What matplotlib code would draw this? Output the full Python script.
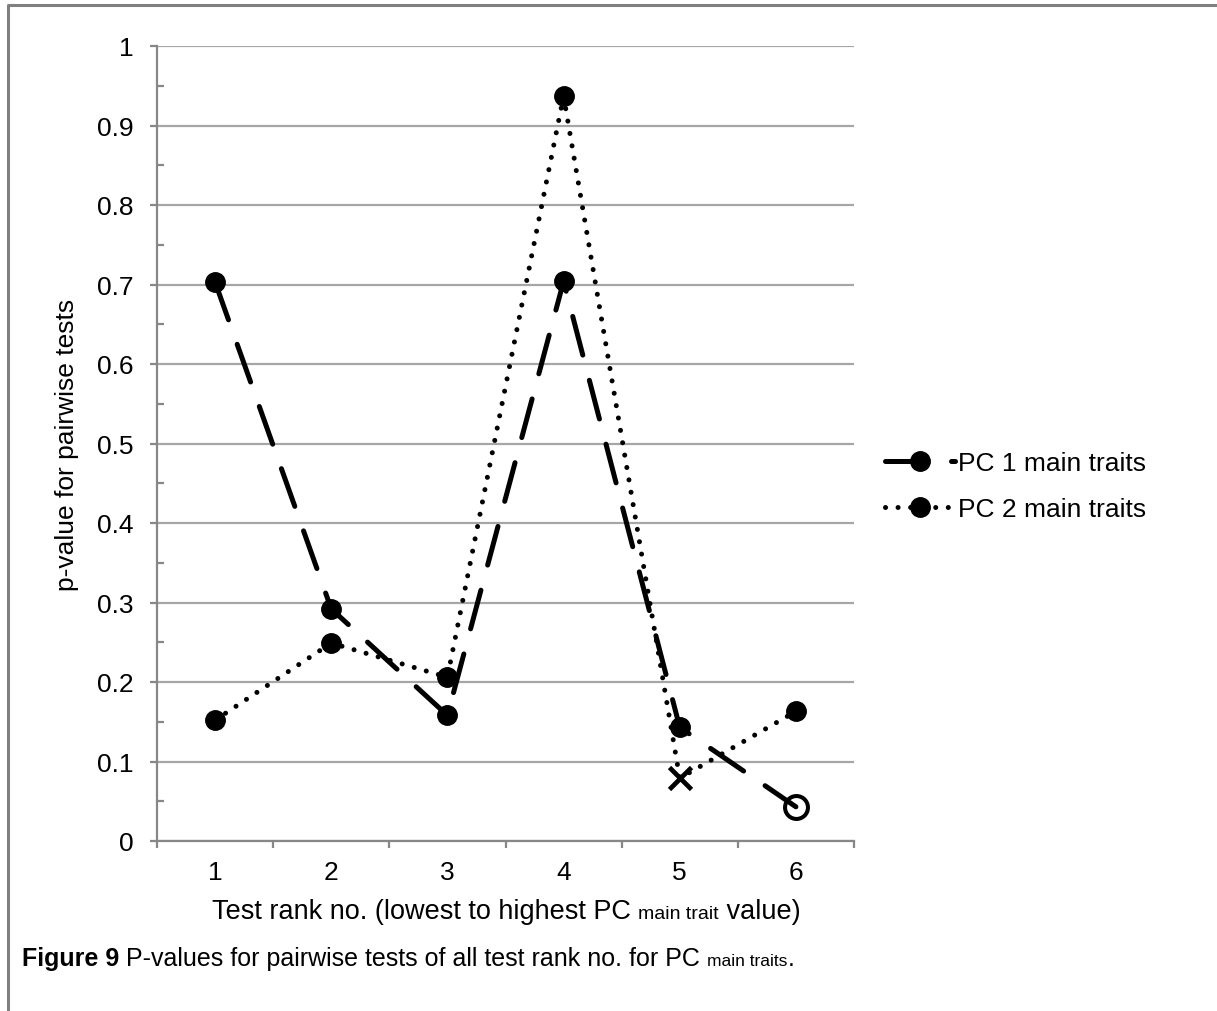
import matplotlib.pyplot as plt
from matplotlib.lines import Line2D
from matplotlib.ticker import MultipleLocator, FixedLocator

plt.rcParams['font.family'] = ['Liberation Sans', 'DejaVu Sans']

# data
ranks = [1, 2, 3, 4, 5, 6]
pc1 = [0.703, 0.292, 0.158, 0.704, 0.143, 0.043]
pc2 = [0.152, 0.249, 0.206, 0.937, 0.079, 0.163]
pc1_label = 'PC 1 main traits'
pc2_label = 'PC 2 main traits'
y_ticks = [0, 0.1, 0.2, 0.3, 0.4, 0.5, 0.6, 0.7, 0.8, 0.9, 1]
y_label = 'p-value for pairwise tests'
x_label_parts = [('Test rank no. (lowest to highest PC ', 19.5, 'normal'),
                 ('main trait', 14, 'normal'),
                 (' value)', 19.5, 'normal')]
caption_parts = [('Figure 9', 18, 'bold'),
                 (' P-values for pairwise tests of all test rank no. for PC ', 18, 'normal'),
                 ('main traits', 12.5, 'normal'),
                 ('.', 18, 'normal')]

W, H = 1217, 1012
fig = plt.figure(figsize=(W / 100, H / 100), dpi=100)
ax = fig.add_axes([157 / W, 1 - 842 / H, (854 - 157) / W, (842 - 47) / H])

grey = '#878787'
ax.set_xlim(0.5, 6.5)
ax.set_ylim(0, 1)
ax.set_yticks(y_ticks)
ax.set_yticklabels(['%g' % v for v in y_ticks])
ax.yaxis.set_minor_locator(MultipleLocator(0.05))
ax.set_xticks(ranks)
ax.xaxis.set_minor_locator(FixedLocator([r - 0.5 for r in ranks] + [ranks[-1] + 0.5]))
ax.grid(axis='y', color='#a6a6a6', lw=1.6, zorder=0)
ax.set_axisbelow(True)
for s in ['top', 'right']:
    ax.spines[s].set_visible(False)
for s in ['left', 'bottom']:
    ax.spines[s].set_color(grey)
    ax.spines[s].set_linewidth(1.6)
ax.tick_params(axis='y', which='major', direction='out', length=5, width=1.6,
               color=grey, labelsize=19, pad=12)
ax.tick_params(axis='y', which='minor', direction='in', length=5, width=1.6, color=grey)
ax.tick_params(axis='x', which='major', length=0, labelsize=19, pad=14)
ax.tick_params(axis='x', which='minor', direction='out', length=5, width=1.6, color=grey)

# PC 2 dotted
ax.plot(ranks, pc2, color='black', lw=3.6, linestyle=(0, (0.01, 2.5)),
        dash_capstyle='round', marker='o', ms=14, markevery=[0, 1, 2, 3, 5],
        label=pc2_label, zorder=3)
ax.plot(ranks[4], pc2[4], color='black', marker='x', ms=16, mew=3.4, ls='none', zorder=4)
# PC 1 dashed
ax.plot(ranks, pc1, color='black', lw=3.6, linestyle=(0, (8, 5.2)),
        dash_capstyle='round', marker='o', ms=14, markevery=[0, 1, 2, 3, 4],
        label=pc1_label, zorder=4)
ax.plot(ranks[5], pc1[5], color='black', marker='o', ms=16.5, mew=2.9,
        mfc='none', ls='none', zorder=5)

handles, labels = ax.get_legend_handles_labels()
fig.legend(handles[::-1], labels[::-1], loc='center left',
           bbox_to_anchor=(885 / W, 1 - 487 / H), frameon=False, fontsize=19,
           handlelength=2.65, handletextpad=0.1, labelspacing=0.83,
           borderpad=0, borderaxespad=0)

fig.text(67 / W, 1 - 445 / H, y_label, rotation=90, ha='center', va='center', fontsize=19)

renderer = fig.canvas.get_renderer()


def chain_text(parts, x0, y0):
    x = x0
    for s, size, weight in parts:
        t = fig.text(x / W, 1 - y0 / H, s, fontsize=size, fontweight=weight,
                     ha='left', va='baseline')
        x = t.get_window_extent(renderer=renderer).x1


chain_text(x_label_parts, 212, 919)
chain_text(caption_parts, 22, 966)

# frame round the figure (left and top)
fig.add_artist(Line2D([8 / W, 8 / W, 1], [0, 1 - 6 / H, 1 - 6 / H],
                      transform=fig.transFigure, color='#808080', lw=2.2))

fig.savefig('out.png', dpi=100)
